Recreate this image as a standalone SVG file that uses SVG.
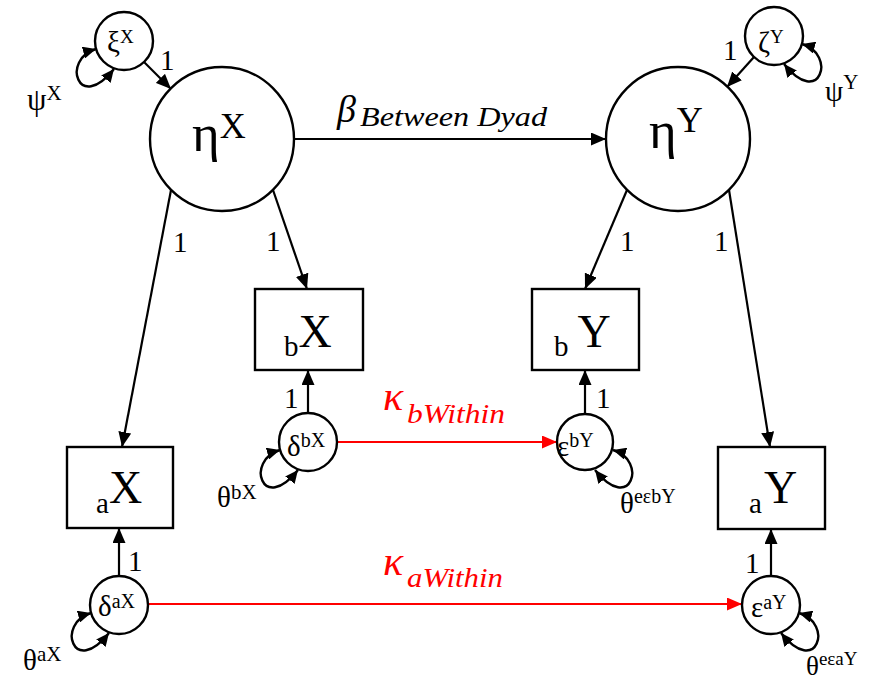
<svg xmlns="http://www.w3.org/2000/svg" width="873" height="681" viewBox="0 0 873 681" font-family="Liberation Serif, Times New Roman, serif">
<defs>
<marker id="ah" viewBox="0 0 15 13" refX="15" refY="6.5" markerWidth="15" markerHeight="13" markerUnits="userSpaceOnUse" orient="auto-start-reverse"><path d="M0,0 L15,6.5 L0,13 Z" fill="#000"/></marker>
<marker id="ahr" viewBox="0 0 15 13" refX="15" refY="6.5" markerWidth="15" markerHeight="13" markerUnits="userSpaceOnUse" orient="auto"><path d="M0,0 L15,6.5 L0,13 Z" fill="#ff0000"/></marker>
<marker id="ahs" viewBox="0 0 13 12" refX="13" refY="6" markerWidth="13" markerHeight="12" markerUnits="userSpaceOnUse" orient="auto-start-reverse"><path d="M0,0 L13,6 L0,12 Z" fill="#000"/></marker>
</defs>
<style>
.n{fill:#fff;stroke:#000;stroke-width:2.4}
.e{fill:none;stroke:#000;stroke-width:2.2}
.a{marker-end:url(#ah)}
.r{fill:none;stroke:#ff0000;stroke-width:2.2;marker-end:url(#ahr)}
.l{fill:none;stroke:#000;stroke-width:2.4;marker-start:url(#ahs);marker-end:url(#ahs)}
text, tspan{font-family:'Liberation Serif','Times New Roman',serif}
text{fill:#000}
.one{font-size:29px}
.it{font-style:italic}
.red{fill:#ff0000}
</style>
<rect width="873" height="681" fill="#fff"/>
<g id="connectors">
<line class="e a" x1="144" y1="62" x2="171" y2="89"/>
<line class="e a" x1="754" y1="57" x2="727" y2="87"/>
<line class="e a" x1="294" y1="139" x2="606" y2="139"/>
<line class="e a" x1="171" y1="190" x2="122" y2="447"/>
<line class="e a" x1="273" y1="190" x2="307" y2="289"/>
<line class="e a" x1="627" y1="190" x2="585" y2="289"/>
<line class="e a" x1="729" y1="190" x2="770" y2="447"/>
<line class="e a" x1="308" y1="413" x2="308" y2="370"/>
<line class="e a" x1="585" y1="414" x2="585" y2="370"/>
<line class="e a" x1="119" y1="576" x2="119" y2="528"/>
<line class="e a" x1="771" y1="576" x2="771" y2="529"/>
<line class="r" x1="337" y1="442" x2="557" y2="442"/>
<line class="r" x1="148" y1="604" x2="742" y2="604"/>
<path class="l" d="M96,49 C61,59 78,114 114,69"/>
<path class="l" d="M802,44 C837,54 820,109 784,64"/>
<path class="l" d="M280,450 C245,460 262,515 298,470"/>
<path class="l" d="M613,450 C648,460 631,515 595,470"/>
<path class="l" d="M91,613 C56,623 73,678 109,633"/>
<path class="l" d="M799,613 C834,623 817,678 781,633"/>
<text class="one" x="160" y="70">1</text>
<text class="one" x="723" y="60">1</text>
<text class="one" x="173" y="252">1</text>
<text class="one" x="266" y="251">1</text>
<text class="one" x="620" y="251">1</text>
<text class="one" x="714" y="251">1</text>
<text class="one" x="284" y="408">1</text>
<text class="one" x="596" y="408">1</text>
<text class="one" x="128" y="571">1</text>
<text class="one" x="745" y="573">1</text>
<text x="337" y="122" font-size="38" class="it">β</text>
<text x="360" y="126" font-size="28" class="it" textLength="187" lengthAdjust="spacingAndGlyphs">Between Dyad</text>
<text x="383" y="410" font-size="42" class="it red">κ</text>
<text x="407" y="423" font-size="28" class="it red" textLength="98" lengthAdjust="spacingAndGlyphs">bWithin</text>
<text x="383" y="575" font-size="42" class="it red">κ</text>
<text x="407" y="587" font-size="28" class="it red" textLength="96" lengthAdjust="spacingAndGlyphs">aWithin</text>
<text x="27" y="110" font-size="31">ψ<tspan font-size="21" dy="-10">X</tspan></text>
<text x="825" y="101" font-size="29">ψ<tspan font-size="21" dy="-12">Y</tspan></text>
<text x="217" y="507" font-size="29">θ<tspan font-size="21" dy="-8">bX</tspan></text>
<text x="620" y="513" font-size="29">θ<tspan font-size="20" dy="-10">eεbY</tspan></text>
<text x="23" y="670" font-size="29">θ<tspan font-size="21" dy="-9">aX</tspan></text>
<text x="806" y="675" font-size="27">θ<tspan font-size="19" dy="-10">eεaY</tspan></text>
</g>
<g id="xiX"><circle class="n" cx="124" cy="41" r="29"/><text x="107" y="52" font-size="29">ξ<tspan font-size="19" dy="-9">X</tspan></text></g>
<g id="zetaY"><circle class="n" cx="774" cy="36" r="29"/><text x="758" y="52" font-size="29">ζ<tspan font-size="19" dy="-9">Y</tspan></text></g>
<g id="etaX"><circle class="n" cx="222" cy="139" r="72"/><text x="192" y="151" font-size="53">η<tspan font-size="36" dy="-13">X</tspan></text></g>
<g id="etaY"><circle class="n" cx="678" cy="139" r="72"/><text x="649" y="148" font-size="53">η<tspan font-size="36" dy="-16">Y</tspan></text></g>
<g id="bX"><rect class="n" x="255" y="289" width="108" height="81"/><text x="284" y="356" font-size="29">b<tspan font-size="46" dy="-9">X</tspan></text></g>
<g id="bY"><rect class="n" x="532" y="289" width="107" height="81"/><text x="554" y="356" font-size="29">b<tspan font-size="46" dy="-9" dx="9">Y</tspan></text></g>
<g id="aX"><rect class="n" x="67" y="447" width="106" height="81"/><text x="96" y="513" font-size="29">a<tspan font-size="46" dy="-10">X</tspan></text></g>
<g id="aY"><rect class="n" x="718" y="447" width="107" height="82"/><text x="749" y="513" font-size="29">a<tspan font-size="46" dy="-10" dx="2">Y</tspan></text></g>
<g id="deltabX"><circle class="n" cx="308" cy="442" r="29"/><text x="287" y="456" font-size="29">δ<tspan font-size="20" dy="-9">bX</tspan></text></g>
<g id="epsbY"><circle class="n" cx="585" cy="442" r="28"/><text x="557" y="456" font-size="29">ε<tspan font-size="20" dy="-9">bY</tspan></text></g>
<g id="deltaaX"><circle class="n" cx="119" cy="605" r="29"/><text x="98" y="616" font-size="29">δ<tspan font-size="20" dy="-8">aX</tspan></text></g>
<g id="epsaY"><circle class="n" cx="771" cy="605" r="29"/><text x="751" y="617" font-size="29">ε<tspan font-size="20" dy="-8">aY</tspan></text></g>
</svg>
